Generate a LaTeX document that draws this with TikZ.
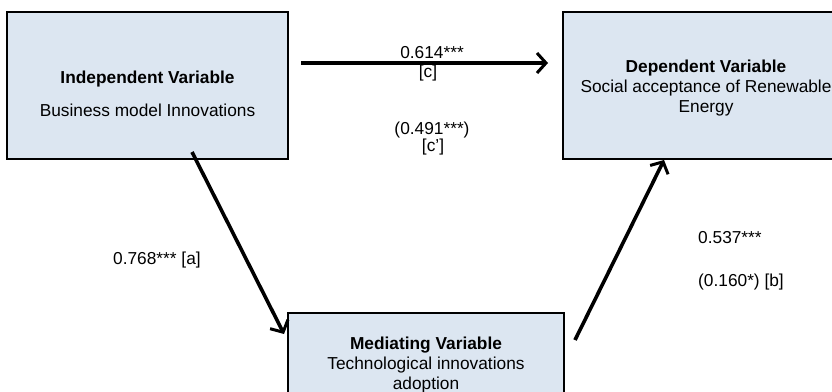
\documentclass[tikz,border=0pt]{standalone}
\usepackage{fontspec}
\setmainfont{Liberation Sans}
\usetikzlibrary{arrows.meta}
\definecolor{boxfill}{RGB}{220,230,241}
\begin{document}
\begin{tikzpicture}[x=1pt,y=-1pt,
  box/.style={draw=black,line width=1.3pt,fill=boxfill,inner sep=0pt},
  txt/.style={inner sep=0pt,align=center,font=\fontsize{17.3pt}{20pt}\selectfont},
  arr/.style={line width=3.6pt,-{Straight Barb[length=9pt,width=20pt,line width=3pt]}}]
\useasboundingbox (0,0) rectangle (832,391);
\clip (0,0) rectangle (832,391);
% boxes
\node[box,minimum width=281pt,minimum height=147pt] (ind) at (147.5,85.5) {};
\node[box,minimum width=286pt,minimum height=147pt] (dep) at (706,85.5) {};
\node[box,minimum width=276pt,minimum height=147pt] (med) at (426,386.5) {};
% box texts
\node[txt] (indT) at (147.5,79) {\textbf{Independent Variable}};
\node[txt] (indS) at (147.5,110) {Business model Innovations};
\node[txt] (depT) at (706,88) {\textbf{Dependent Variable}\\Social acceptance of Renewable\\Energy};
\node[txt] (medT) at (426,365) {\textbf{Mediating Variable}\\Technological innovations\\adoption};
% labels
\node[txt] (c1) at (432,53) {0.614***};
\node[txt] (c2) at (428,73) {[c]};
\node[txt] (c3) at (432,130) {(0.491***)};
\node[txt] (c4) at (433,147) {[c']};
\node[txt,anchor=west] (la) at (113,260) {0.768*** [a]};
\node[txt,anchor=west] (lb1) at (698,238) {0.537***};
\node[txt,anchor=west] (lb2) at (698,282) {(0.160*) [b]};
% connectors
\coordinate (h1) at (301,63);
\coordinate (h2) at (548,63);
\coordinate (a1) at (192,152);
\coordinate (a2) at (284,334);
\coordinate (b1) at (575,340);
\coordinate (b2) at (664,160);
\draw[arr] (h1) -- (h2);
\draw[arr] (a1) -- (a2);
\draw[arr] (b1) -- (b2);
\end{tikzpicture}
\end{document}
